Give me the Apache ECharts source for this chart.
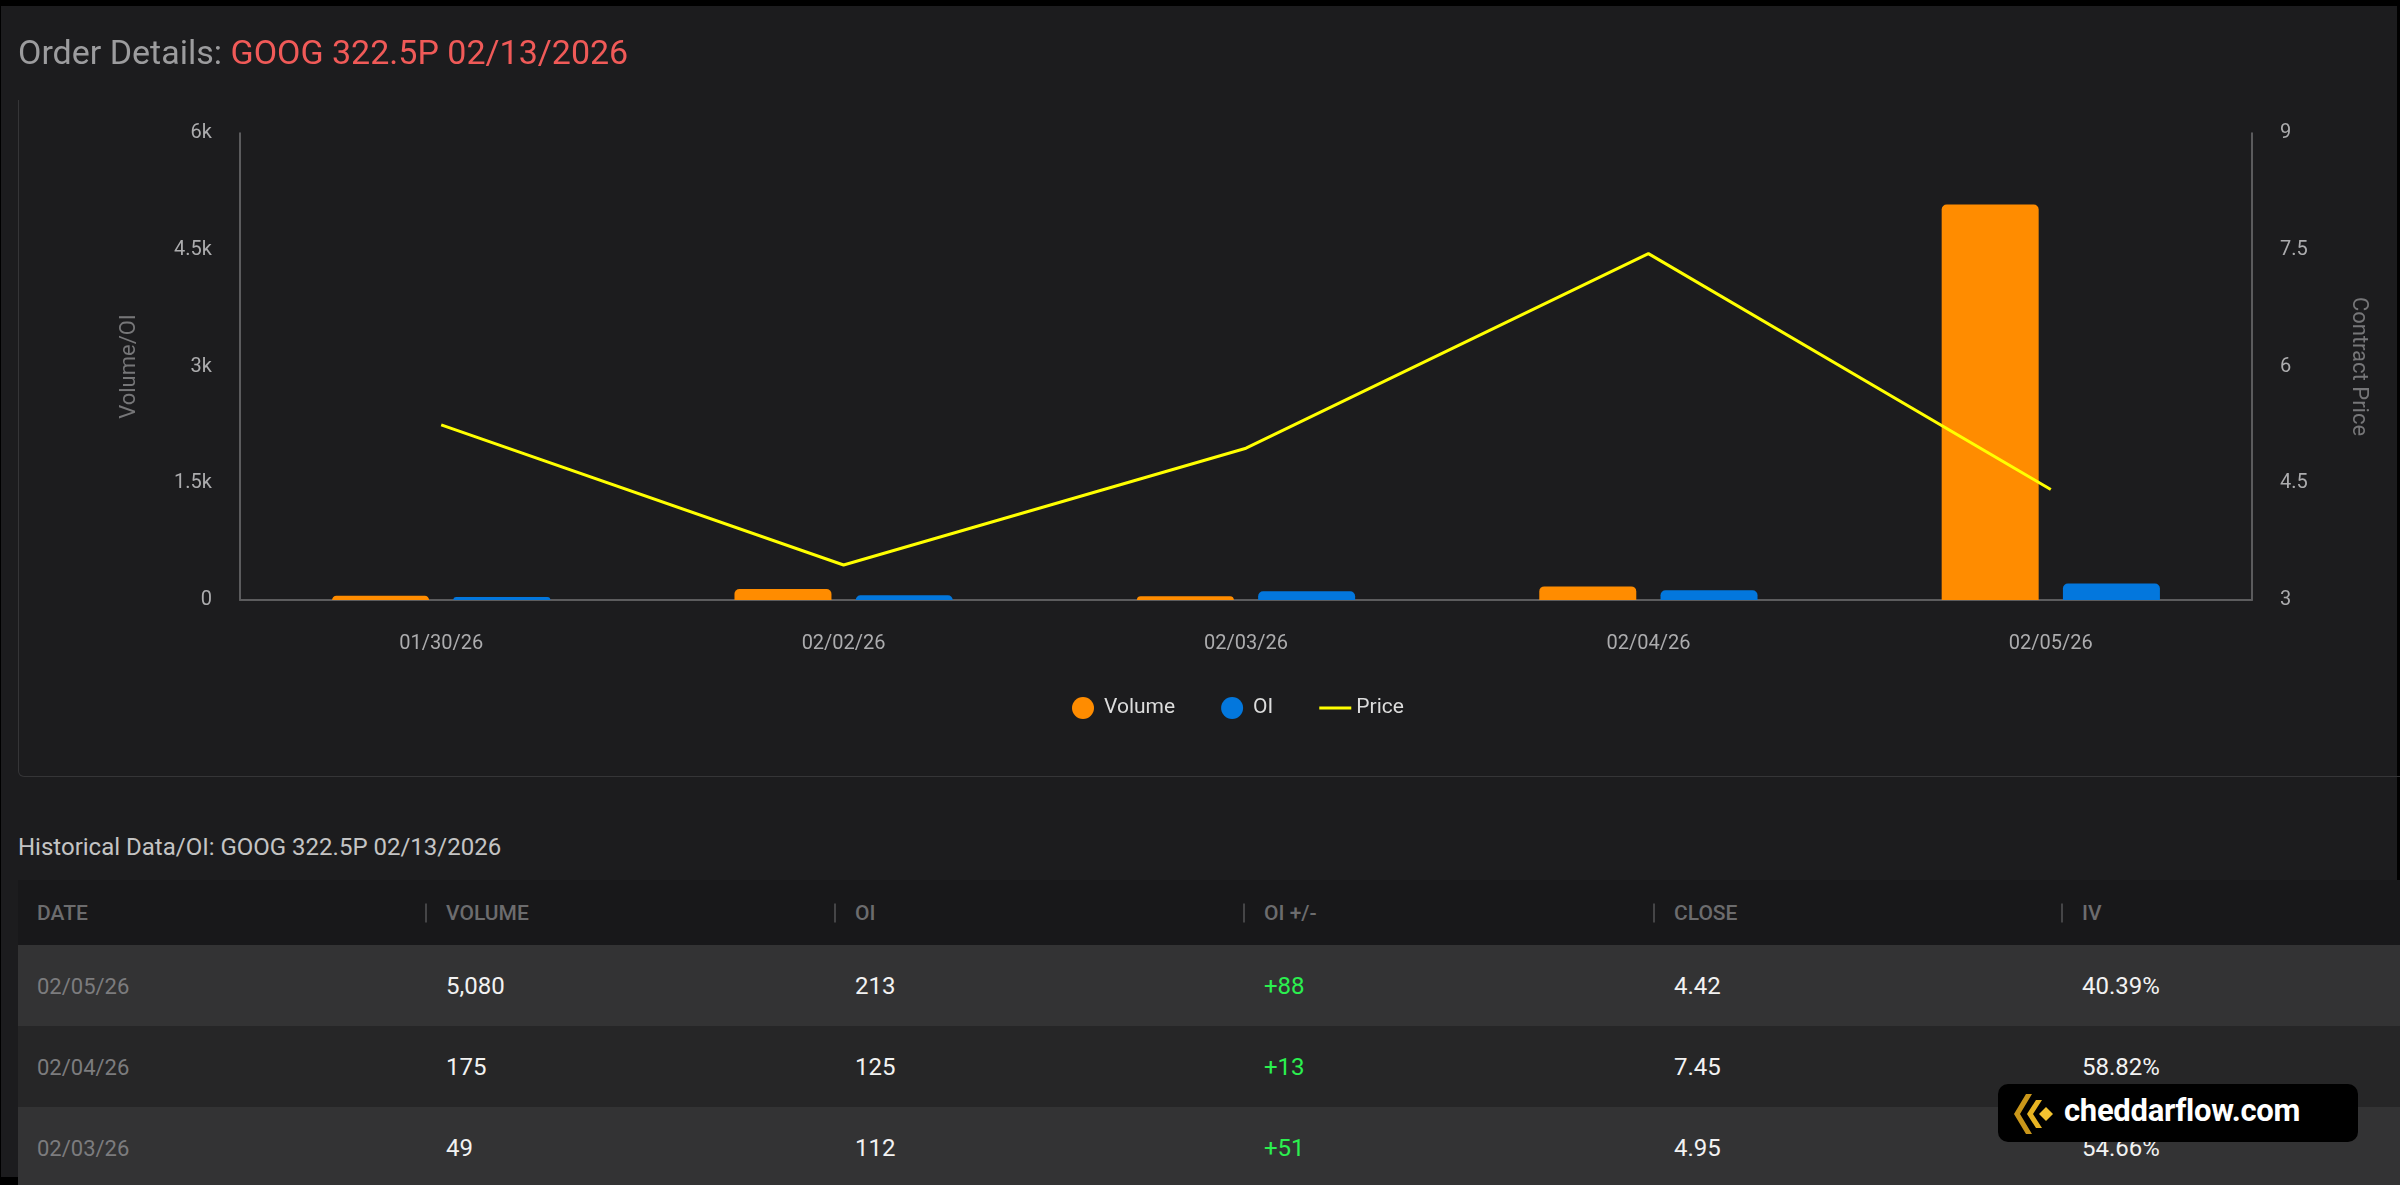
<!DOCTYPE html>
<html>
<head>
<meta charset="utf-8">
<script src="https://cdn.jsdelivr.net/npm/echarts@6/dist/echarts.min.js"></script>
<style>
  html, body { margin: 0; padding: 0; background: #000; width: 2400px; height: 1185px; overflow: hidden; }
  body { font-family: Roboto, "Noto Sans", sans-serif; }
  #page { position: absolute; left: 1px; top: 6px; width: 2396px; height: 1171px; background: #1c1c1e; }
  #card { position: absolute; left: 18px; top: 100px; width: 2420px; height: 676px; border: 1px solid #353537; border-top: none; border-radius: 0 0 0 6px; }
  #chart { position: absolute; left: 0; top: 0; width: 2400px; height: 780px; }
  #histTitle { position: absolute; left: 18px; top: 833px; font-size: 24px; color: #c4c4c4; }
  #table { position: absolute; left: 18px; top: 880px; width: 2382px; }
  .row { position: relative; height: 81px; }
  .head { height: 65px; background: #18181a; }
  .odd { background: #333334; }
  .even { background: #262627; }
  .cell { position: absolute; top: 50%; transform: translateY(-50%); font-size: 24px; color: #f2f2f2; white-space: nowrap; }
  .head .cell { font-size: 21px; color: #6c6c6e; font-weight: 500; }
  .sep { position: absolute; top: 50%; transform: translateY(-50%); width: 2px; height: 19px; background: #454547; }
  .date { color: #7c7c7e !important; font-size: 22px !important; }
  .up { color: #2bf04f !important; }
  #badge { position: absolute; left: 1998px; top: 1084px; width: 360px; height: 58px; background: #000; border-radius: 10px; }
  #badge span { position: absolute; left: 66px; top: 8px; font-size: 31px; font-weight: 700; color: #fff; letter-spacing: -0.3px; }
  #badge svg { position: absolute; left: 14px; top: 10px; }
</style>
</head>
<body>
<div id="page"></div>
<div id="card"></div>
<div id="chart"></div>
<div id="histTitle">Historical Data/OI: GOOG 322.5P 02/13/2026</div>
<div id="table"></div>
<div id="badge">
  <svg width="44" height="40" viewBox="0 0 44 40">
    <polygon points="14,0 20,0 8,20 20,40 14,40 2,20" fill="#c9961a"/>
    <polygon points="24,6 30,6 21,20 30,34 24,34 15,20" fill="#e8b422"/>
    <polygon points="34,13 41,20 34,27 27,20" fill="#f4c430"/>
  </svg>
  <span>cheddarflow.com</span>
</div>
<script>
// chart data
var dates = ['01/30/26', '02/02/26', '02/03/26', '02/04/26', '02/05/26'];
var volume = [55, 140, 49, 175, 5080];
var openInt = [38, 61, 112, 125, 213];
var price = [5.25, 3.45, 4.95, 7.45, 4.42];
var ivPct = ['', '', '54.66%', '58.82%', '40.39%'];

var tableCols = ['DATE', 'VOLUME', 'OI', 'OI +/-', 'CLOSE', 'IV'];
var colX = [19, 428, 837, 1246, 1656, 2064];

// ---- table ----
var tbl = document.getElementById('table');
var html = '<div class="row head">';
tableCols.forEach(function(c, i) {
  if (i > 0) html += '<div class="sep" style="left:' + (colX[i] - 21) + 'px"></div>';
  html += '<div class="cell" style="left:' + colX[i] + 'px">' + c + '</div>';
});
html += '</div>';
var n = 0;
for (var i = dates.length - 1; i >= 2; i--) {
  var chg = openInt[i] - openInt[i - 1];
  var vals = [dates[i], volume[i].toLocaleString('en-US'), openInt[i], (chg >= 0 ? '+' : '') + chg, price[i].toFixed(2), ivPct[i]];
  html += '<div class="row ' + (n % 2 == 0 ? 'odd' : 'even') + '">';
  vals.forEach(function(v, j) {
    var cls = j == 0 ? ' date' : (j == 3 ? ' up' : '');
    html += '<div class="cell' + cls + '" style="left:' + colX[j] + 'px">' + v + '</div>';
  });
  html += '</div>';
  n++;
}
tbl.innerHTML = html;

// ---- chart ----
var chart = echarts.init(document.getElementById('chart'));

function kFmt(v) {
  return v == 0 ? '0' : (v / 1000) + 'k';
}

var option = {
  backgroundColor: 'transparent',
  textStyle: { fontFamily: 'Roboto' },
  title: {
    left: 18, top: 38, padding: 0,
    text: '{a|Order Details: }{b|GOOG 322.5P 02/13/2026}',
    textStyle: {
      fontWeight: 'normal',
      rich: {
        a: { fontSize: 34, color: '#9c9c9e', fontFamily: 'Roboto', fontWeight: 'normal' },
        b: { fontSize: 34, color: '#f05a58', fontFamily: 'Roboto', fontWeight: 'normal' }
      }
    }
  },
  legend: {
    left: 1067, top: 692,
    itemWidth: 32, itemHeight: 22, itemGap: 46,
    textStyle: { color: '#dcdcdc', fontSize: 21 },
    data: [
      { name: 'Volume', icon: 'circle' },
      { name: 'OI', icon: 'circle' },
      { name: 'Price', icon: 'path://M0,0 L32,0 L32,3 L0,3 Z' }
    ]
  },
  grid: { left: 240, right: 148, top: 133, bottom: 180 },
  xAxis: {
    type: 'category',
    data: dates,
    axisLine: { lineStyle: { color: '#5c5c5e', width: 2 } },
    axisTick: { show: false },
    axisLabel: { color: '#acacae', fontSize: 20, margin: 34 }
  },
  yAxis: [
    {
      type: 'value', min: 0, max: 6000, interval: 1500,
      name: 'Volume/OI', nameLocation: 'middle', nameGap: 100,
      nameTextStyle: { color: '#767678', fontSize: 22 },
      axisLine: { show: true, lineStyle: { color: '#717173', width: 1.5 } },
      axisTick: { show: false },
      splitLine: { show: false },
      axisLabel: { color: '#acacae', fontSize: 20, margin: 28, formatter: kFmt }
    },
    {
      type: 'value', min: 3, max: 9, interval: 1.5,
      name: 'Contract Price', nameLocation: 'middle', nameGap: 95, nameRotate: -90,
      nameTextStyle: { color: '#767678', fontSize: 22 },
      axisLine: { show: true, lineStyle: { color: '#717173', width: 1.5 } },
      axisTick: { show: false },
      splitLine: { show: false },
      axisLabel: { color: '#acacae', fontSize: 20, margin: 28 }
    }
  ],
  series: [
    {
      name: 'Volume', type: 'bar', data: volume,
      barWidth: 97, barGap: '25%',
      itemStyle: { color: '#ff8c00', borderRadius: [5, 5, 0, 0] }
    },
    {
      name: 'OI', type: 'bar', data: openInt,
      barWidth: 97,
      itemStyle: { color: '#0377dd', borderRadius: [5, 5, 0, 0] }
    },
    {
      name: 'Price', type: 'line', yAxisIndex: 1, data: price,
      symbol: 'none',
      lineStyle: { color: '#ffff00', width: 3 },
      itemStyle: { color: '#ffff00' }
    }
  ]
};
chart.setOption(option);
</script>
</body>
</html>
